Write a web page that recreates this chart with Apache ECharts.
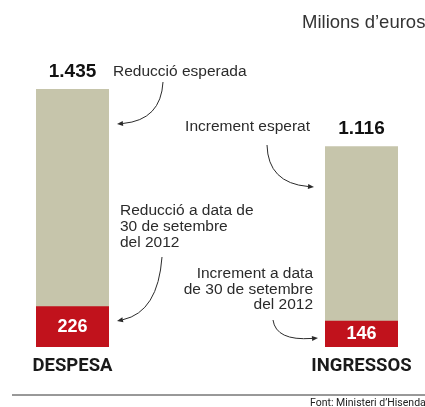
<!DOCTYPE html>
<html>
<head>
<meta charset="utf-8">
<script src="https://cdn.jsdelivr.net/npm/echarts@6/dist/echarts.min.js"></script>
<style>
  html, body { margin: 0; padding: 0; background: #fff; }
  #main { width: 425px; height: 407px; }
</style>
</head>
<body>
<div id="main"></div>
<script>
// dades (milions d'euros)
var categories = ['DESPESA', 'INGRESSOS'];
var esperat = [1435, 1116];
var aSetembre = [226, 146];

var beige = '#c6c5ab';
var vermell = '#c1121c';
var gris = '#2b2b2b';
var lletra = '"Liberation Sans", Arial, sans-serif';
var estreta = 'Roboto, "Liberation Sans", sans-serif';

// fletxa corba amb punta (bezier quadratica)
function fletxa (x1, y1, cx, cy, x2, y2) {
  var dx = x2 - cx, dy = y2 - cy;
  var len = Math.sqrt(dx * dx + dy * dy);
  var ux = dx / len, uy = dy / len;
  var l = 6, w = 2.5;
  var bx = x2 - ux * l, by = y2 - uy * l;
  return [{
    type: 'bezierCurve',
    shape: { x1: x1, y1: y1, cpx1: cx, cpy1: cy, x2: bx, y2: by },
    style: { stroke: gris, lineWidth: 1, fill: null }
  }, {
    type: 'polygon',
    shape: { points: [[x2, y2], [bx - uy * w, by + ux * w], [bx + uy * w, by - ux * w]] },
    style: { fill: gris }
  }];
}

function text (x, y, t, extra) {
  var s = {
    text: t, x: x, y: y, fill: gris,
    font: '15.5px ' + lletra, textVerticalAlign: 'middle'
  };
  for (var k in extra) s[k] = extra[k];
  return { type: 'text', style: s };
}

var myChart = echarts.init(document.getElementById('main'));

var graphics = [
  text(302, 23, 'Milions d\u2019euros', { fill: '#333', font: '18.5px ' + lletra }),
  text(113, 72, 'Reducció esperada'),
  text(310, 127, 'Increment esperat', { textAlign: 'right' }),
  text(120, 203, 'Reducció a data de\n30 de setembre\ndel 2012', { textVerticalAlign: 'top', lineHeight: 16 }),
  text(313, 266, 'Increment a data\nde 30 de setembre\ndel 2012', { textAlign: 'right', textVerticalAlign: 'top', lineHeight: 15.5 }),
  text(310, 403, 'Font: Ministeri d\u2019Hisenda', { font: '10.5px ' + estreta, fill: '#222' }),
  { type: 'line', shape: { x1: 12, y1: 395, x2: 425, y2: 395 }, style: { stroke: '#333', lineWidth: 1 } }
]
  .concat(fletxa(163, 82, 161, 120, 117, 124))
  .concat(fletxa(267, 145, 268, 183, 314, 187))
  .concat(fletxa(162, 257, 158, 312, 117, 321))
  .concat(fletxa(273, 320, 276, 341, 318, 338));

var option = {
  animation: false,
  grid: { left: 72.5, right: 63.5, top: 89, bottom: 60 },
  xAxis: {
    type: 'category',
    data: categories,
    boundaryGap: false,
    axisLine: { show: false },
    axisTick: { show: false },
    axisLabel: {
      margin: 10,
      color: '#1a1a1a',
      fontFamily: estreta,
      fontWeight: 'bold',
      fontSize: 18.5
    }
  },
  yAxis: {
    type: 'value',
    min: 0,
    max: 1435,
    show: false
  },
  series: [{
    name: 'Esperat',
    type: 'bar',
    data: esperat,
    barWidth: 73,
    itemStyle: { color: beige },
    label: {
      show: true,
      position: 'top',
      distance: 8,
      color: '#111',
      fontFamily: lletra,
      fontWeight: 'bold',
      fontSize: 19,
      formatter: function (p) {
        return echarts.format.addCommas(p.value).replace(',', '.');
      }
    }
  }, {
    name: 'A 30 de setembre',
    type: 'bar',
    data: aSetembre,
    barWidth: 73,
    barGap: '-100%',
    itemStyle: { color: vermell },
    label: {
      show: true,
      position: 'inside',
      color: '#fff',
      fontFamily: lletra,
      fontWeight: 'bold',
      fontSize: 18
    }
  }],
  graphic: graphics
};

myChart.setOption(option);
window.addEventListener('resize', function () {
  myChart.resize();
});
</script>
</body>
</html>
